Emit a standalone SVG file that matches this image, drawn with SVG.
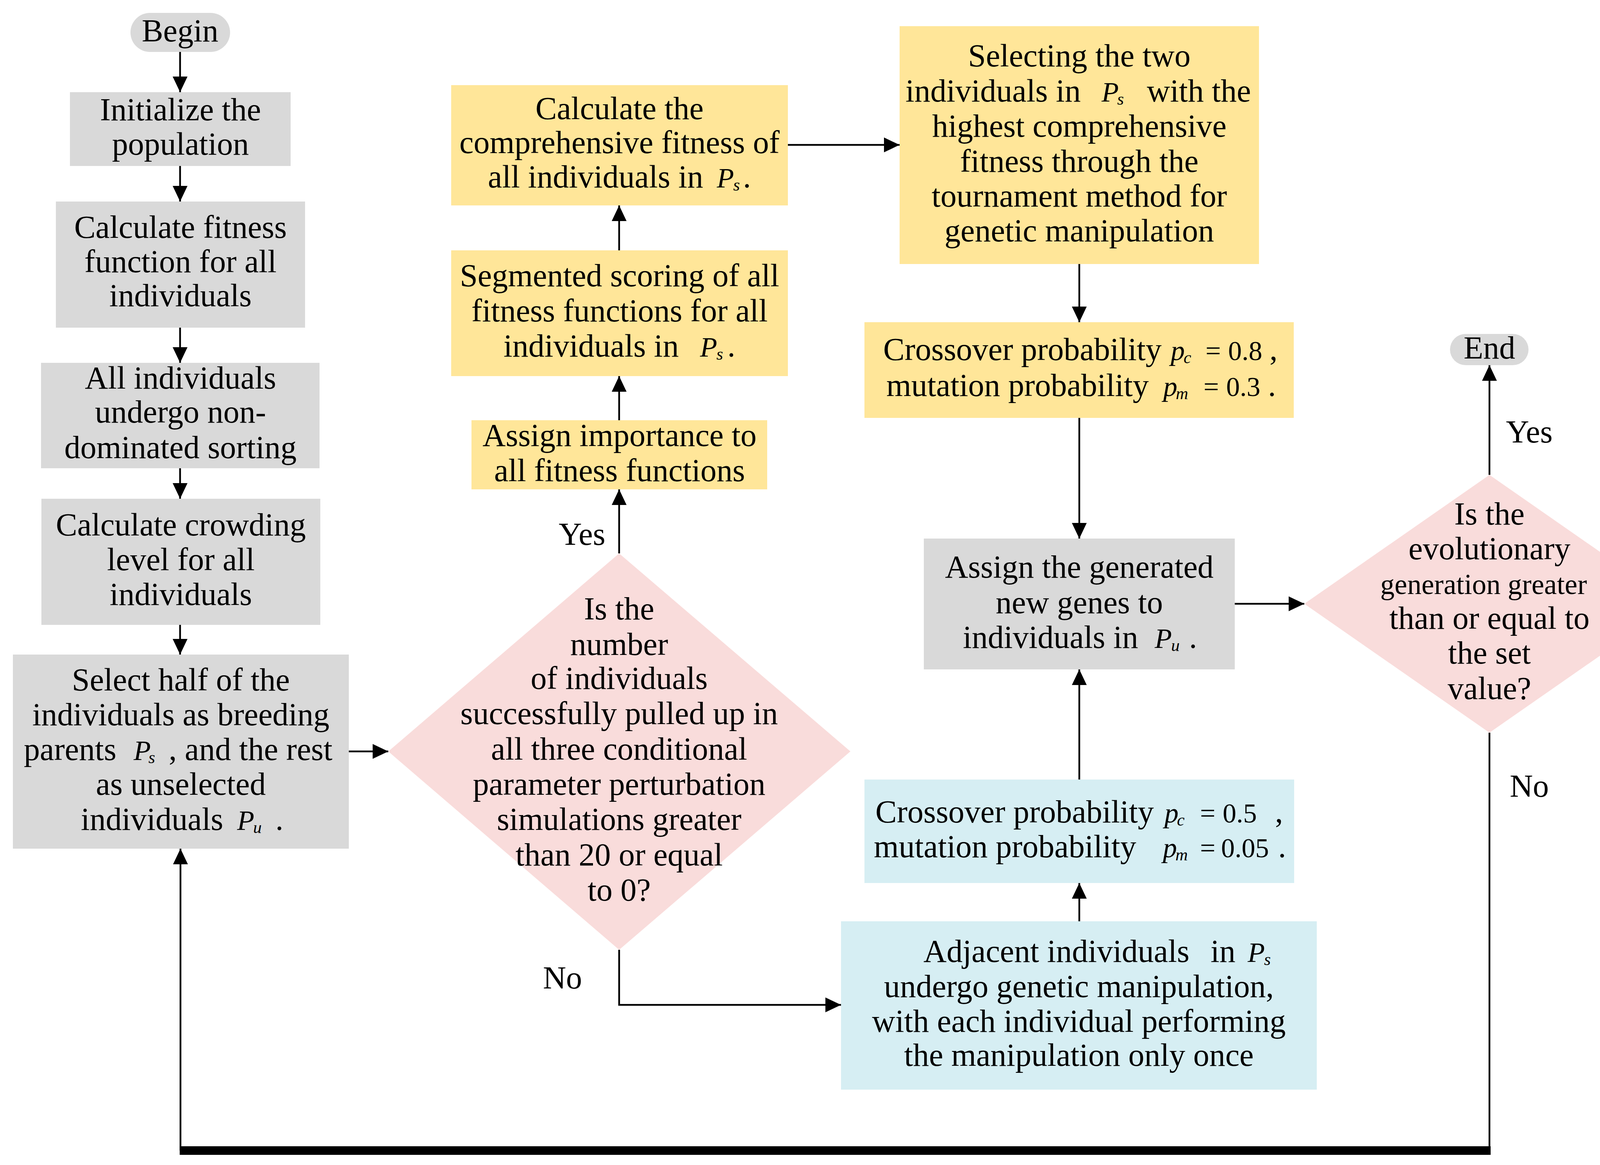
<svg xmlns="http://www.w3.org/2000/svg" width="4328" height="2983" viewBox="0 0 4328 2983">
<defs>
<style>
.t{font-family:"Liberation Serif","Times New Roman",serif;font-size:82px;fill:#000;text-anchor:middle}
.s{font-family:"Liberation Serif","Times New Roman",serif;font-size:82px;fill:#000}
.mi{font-style:italic;font-size:72px}
.sb{font-style:italic;font-size:44px}
.mn{font-size:70px}
.gray{fill:#D9D9D9}
.yel{fill:#FFE699}
.pink{fill:#F9DCDB}
.blue{fill:#D6EEF3}
.ln{stroke:#000;stroke-width:4.5;fill:none}
</style>
<marker id="ah" markerUnits="userSpaceOnUse" markerWidth="42" markerHeight="38" refX="40" refY="19" orient="auto">
<path d="M0,0 L40,19 L0,38 Z" fill="#000"/>
</marker>
</defs>
<rect width="4328" height="2983" fill="#fff"/>

<g id="connectors">
<line class="ln" x1="461" y1="133" x2="461" y2="236" marker-end="url(#ah)"/>
<line class="ln" x1="461" y1="425" x2="461" y2="516" marker-end="url(#ah)"/>
<line class="ln" x1="461" y1="839" x2="461" y2="929" marker-end="url(#ah)"/>
<line class="ln" x1="461" y1="1199" x2="461" y2="1277" marker-end="url(#ah)"/>
<line class="ln" x1="461" y1="1600" x2="461" y2="1676" marker-end="url(#ah)"/>
<line class="ln" x1="893" y1="1924" x2="994" y2="1924" marker-end="url(#ah)"/>
<line class="ln" x1="1585" y1="1417" x2="1585" y2="1253" marker-end="url(#ah)"/>
<line class="ln" x1="1585" y1="1076" x2="1585" y2="963" marker-end="url(#ah)"/>
<line class="ln" x1="1585" y1="641" x2="1585" y2="526" marker-end="url(#ah)"/>
<line class="ln" x1="2017" y1="371" x2="2303" y2="371" marker-end="url(#ah)"/>
<line class="ln" x1="2763" y1="676" x2="2763" y2="825" marker-end="url(#ah)"/>
<line class="ln" x1="2763" y1="1070" x2="2763" y2="1379" marker-end="url(#ah)"/>
<polyline class="ln" points="1585,2432 1585,2573 2153,2573" marker-end="url(#ah)"/>
<line class="ln" x1="2763" y1="2359" x2="2763" y2="2261" marker-end="url(#ah)"/>
<line class="ln" x1="2763" y1="1996" x2="2763" y2="1714" marker-end="url(#ah)"/>
<line class="ln" x1="3161" y1="1546" x2="3339" y2="1546" marker-end="url(#ah)"/>
<line class="ln" x1="3813" y1="1216" x2="3813" y2="935" marker-end="url(#ah)"/>
<line class="ln" x1="3813" y1="1876" x2="3813" y2="2946"/>
<rect x="460" y="2935" width="3356" height="22" fill="#000"/>
<line class="ln" x1="462" y1="2946" x2="462" y2="2173" marker-end="url(#ah)"/>
<text class="t" x="1490" y="1395">Yes</text>
<text class="t" x="1440" y="2531">No</text>
<text class="t" x="3915" y="1133">Yes</text>
<text class="t" x="3915" y="2040">No</text>
</g>

<g id="begin">
<rect class="gray" x="334" y="33" width="255" height="100" rx="50"/>
<text class="t" x="461" y="106">Begin</text>
</g>

<g id="init">
<rect class="gray" x="179" y="236" width="565" height="189"/>
<text class="t" x="462" y="308">Initialize the</text>
<text class="t" x="462" y="396">population</text>
</g>

<g id="calc-fitness">
<rect class="gray" x="143" y="516" width="638" height="323"/>
<text class="t" x="462" y="609">Calculate fitness</text>
<text class="t" x="462" y="697">function for all</text>
<text class="t" x="462" y="784">individuals</text>
</g>

<g id="nondominated">
<rect class="gray" x="105" y="929" width="713" height="270"/>
<text class="t" x="462" y="995">All individuals</text>
<text class="t" x="462" y="1082">undergo non-</text>
<text class="t" x="462" y="1173">dominated sorting</text>
</g>

<g id="crowding">
<rect class="gray" x="106" y="1277" width="714" height="323"/>
<text class="t" x="463" y="1371">Calculate crowding</text>
<text class="t" x="463" y="1460">level for all</text>
<text class="t" x="463" y="1549">individuals</text>
</g>

<g id="select">
<rect class="gray" x="33" y="1676" width="860" height="497"/>
<text class="t" x="463" y="1768">Select half of the</text>
<text class="t" x="463" y="1857">individuals as breeding</text>
<text class="s" y="1946"><tspan x="61">parents</tspan><tspan class="mi" x="342">P</tspan><tspan class="sb" x="380" dy="8">s</tspan><tspan x="432" dy="-8">, and the rest</tspan></text>
<text class="t" x="463" y="2035">as unselected</text>
<text class="s" y="2125"><tspan x="207">individuals</tspan><tspan class="mi" x="607">P</tspan><tspan class="sb" x="648" dy="8">u</tspan><tspan x="705" dy="-8">.</tspan></text>
</g>

<g id="decision-count">
<polygon class="pink" points="1585,1417 2177,1924 1585,2432 994,1924"/>
<text class="t" x="1585" y="1586">Is the</text>
<text class="t" x="1585" y="1677">number</text>
<text class="t" x="1585" y="1764">of individuals</text>
<text class="t" x="1585" y="1854">successfully pulled up in</text>
<text class="t" x="1585" y="1945">all three conditional</text>
<text class="t" x="1585" y="2035">parameter perturbation</text>
<text class="t" x="1585" y="2125">simulations greater</text>
<text class="t" x="1585" y="2216">than 20 or equal</text>
<text class="t" x="1585" y="2306">to 0?</text>
</g>

<g id="assign-importance">
<rect class="yel" x="1207" y="1076" width="757" height="177"/>
<text class="t" x="1586" y="1142">Assign importance to</text>
<text class="t" x="1586" y="1232">all fitness functions</text>
</g>

<g id="segmented">
<rect class="yel" x="1155" y="641" width="862" height="322"/>
<text class="t" x="1586" y="733">Segmented scoring of all</text>
<text class="t" x="1586" y="823">fitness functions for all</text>
<text class="s" y="913"><tspan x="1289">individuals in</tspan><tspan class="mi" x="1792">P</tspan><tspan class="sb" x="1834" dy="8">s</tspan><tspan x="1862" dy="-8">.</tspan></text>
</g>

<g id="comprehensive">
<rect class="yel" x="1155" y="218" width="862" height="308"/>
<text class="t" x="1586" y="305">Calculate the</text>
<text class="t" x="1586" y="392">comprehensive fitness of</text>
<text class="s" y="480"><tspan x="1249">all individuals in</tspan><tspan class="mi" x="1835">P</tspan><tspan class="sb" x="1877" dy="8">s</tspan><tspan x="1902" dy="-8">.</tspan></text>
</g>

<g id="selecting">
<rect class="yel" x="2303" y="67" width="920" height="609"/>
<text class="t" x="2763" y="170">Selecting the two</text>
<text class="s" y="260"><tspan x="2318">individuals in</tspan><tspan class="mi" x="2820">P</tspan><tspan class="sb" x="2860" dy="8">s</tspan><tspan x="2936" dy="-8">with the</tspan></text>
<text class="t" x="2763" y="350">highest comprehensive</text>
<text class="t" x="2763" y="440">fitness through the</text>
<text class="t" x="2763" y="529">tournament method for</text>
<text class="t" x="2763" y="618">genetic manipulation</text>
</g>

<g id="crossover-high">
<rect class="yel" x="2213" y="825" width="1099" height="245"/>
<text class="s" y="922"><tspan x="2261">Crossover probability</tspan><tspan class="mi" x="2997">p</tspan><tspan class="sb" x="3030" dy="8">c</tspan><tspan class="mn" x="3086" dy="-8">=</tspan><tspan class="mn" x="3144">0.8</tspan><tspan x="3250">,</tspan></text>
<text class="s" y="1014"><tspan x="2269">mutation probability</tspan><tspan class="mi" x="2978">p</tspan><tspan class="sb" x="3010" dy="8">m</tspan><tspan class="mn" x="3081" dy="-8">=</tspan><tspan class="mn" x="3139">0.3</tspan><tspan x="3246">.</tspan></text>
</g>

<g id="assign-genes">
<rect class="gray" x="2365" y="1379" width="796" height="335"/>
<text class="t" x="2763" y="1479">Assign the generated</text>
<text class="t" x="2763" y="1570">new genes to</text>
<text class="s" y="1659"><tspan x="2465">individuals in</tspan><tspan class="mi" x="2956">P</tspan><tspan class="sb" x="2998" dy="8">u</tspan><tspan x="3044" dy="-8">.</tspan></text>
</g>

<g id="crossover-low">
<rect class="blue" x="2213" y="1996" width="1100" height="265"/>
<text class="s" y="2106"><tspan x="2241">Crossover probability</tspan><tspan class="mi" x="2981">p</tspan><tspan class="sb" x="3013" dy="8">c</tspan><tspan class="mn" x="3072" dy="-8">=</tspan><tspan class="mn" x="3130">0.5</tspan><tspan x="3264">,</tspan></text>
<text class="s" y="2195"><tspan x="2237">mutation probability</tspan><tspan class="mi" x="2977">p</tspan><tspan class="sb" x="3009" dy="8">m</tspan><tspan class="mn" x="3072" dy="-8">=</tspan><tspan class="mn" x="3126">0.05</tspan><tspan x="3272">.</tspan></text>
</g>

<g id="adjacent">
<rect class="blue" x="2153" y="2359" width="1218" height="431"/>
<text class="s" y="2463"><tspan x="2364">Adjacent individuals</tspan><tspan x="3099">in</tspan><tspan class="mi" x="3194">P</tspan><tspan class="sb" x="3236" dy="8">s</tspan></text>
<text class="t" x="2762" y="2553">undergo genetic manipulation,</text>
<text class="t" x="2762" y="2642">with each individual performing</text>
<text class="t" x="2762" y="2729">the manipulation only once</text>
</g>

<g id="decision-generation">
<polygon class="pink" points="3813,1216 4287,1546 3813,1876 3339,1546"/>
<text class="t" x="3813" y="1343">Is the</text>
<text class="t" x="3813" y="1432">evolutionary</text>
<text class="t" x="3798" y="1521" style="font-size:73px">generation greater</text>
<text class="t" x="3813" y="1610">than or equal to</text>
<text class="t" x="3813" y="1699">the set</text>
<text class="t" x="3813" y="1790">value?</text>
</g>

<g id="end">
<rect class="gray" x="3712" y="855" width="201" height="80" rx="40"/>
<text class="t" x="3813" y="918">End</text>
</g>
</svg>
